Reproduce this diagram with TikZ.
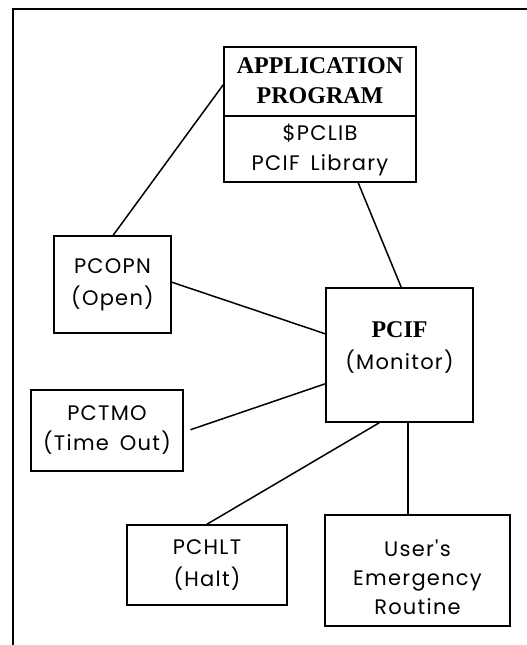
\documentclass[tikz,border=0pt]{standalone}
\usepackage{fontspec}
\setmainfont{Liberation Serif}
\newfontfamily\geosans[LetterSpace=6,WordSpace=1.6]{Poppins}
\usetikzlibrary{calc}
\begin{document}
\begin{tikzpicture}[x=1pt,y=-1pt,
  line width=1.6pt,
  box/.style={draw, rectangle, inner sep=0pt},
  lbl/.style={align=center, font=\geosans\fontsize{21}{30}\selectfont},
  hdr/.style={align=center, font=\bfseries\fontsize{24}{30}\selectfont},
  link/.style={line width=1.5pt}]
  \useasboundingbox (0,0) rectangle (527,645);
  % outer frame (top and left edges)
  \draw (13,645) -- (13,9) -- (527,9);

  % application program with library part
  \node[box, minimum width=192pt, minimum height=69pt] (app) at (320,81.5) {};
  \node[hdr] (apptxt) at (320,81) {APPLICATION\\PROGRAM};
  \node[box, minimum width=192pt, minimum height=66pt] (lib) at (320,149) {};
  \node[lbl] (libtxt) at (320,150) {\$PCLIB\\PCIF Library};

  % monitor
  \node[box, minimum width=147pt, minimum height=134pt] (pcif) at (399.5,355) {};
  \node[align=center] (pciftxt) at (399.5,347.5)
    {{\bfseries\fontsize{24}{24}\selectfont PCIF}\\[12pt]{\geosans\fontsize{21}{30}\selectfont (Monitor)}};

  % routines
  \node[box, lbl, font=\geosans\fontsize{21}{32}\selectfont, minimum width=117pt, minimum height=97pt] (pcopn) at (112.5,284.5) {PCOPN\\(Open)};
  \node[box, lbl, minimum width=152pt, minimum height=81pt] (pctmo) at (107,430.5) {PCTMO\\(Time Out)};
  \node[box, lbl, font=\geosans\fontsize{21}{32}\selectfont, minimum width=160pt, minimum height=80pt] (pchlt) at (207,565) {PCHLT\\(Halt)};
  \node[box, minimum width=185pt, minimum height=111pt] (user) at (417.5,570.5) {};
  \node[lbl, font=\geosans\fontsize{21}{29}\selectfont] (usertxt) at (417.5,577) {User's\\Emergency\\Routine};

  % connections
  \draw[link] ($(app.south west)+(0,-32)$) -- ($(pcopn.north west)+(60,0)$);
  \draw[link] ($(lib.south west)+(135,0)$) -- ($(pcif.north west)+(76,0)$);
  \draw[link] ($(pcopn.north east)+(0,47)$) -- ($(pcif.south west)+(0,-89)$);
  \draw[link, shorten <=7pt] ($(pctmo.east)+(0,1.5)$) -- ($(pcif.south west)+(0,-39)$);
  \draw[link] ($(pcif.south west)+(54,0)$) -- (pchlt.north);
  \draw[link] ($(pcif.south west)+(83,0)$) -- ($(user.north west)+(84,0)$);
\end{tikzpicture}
\end{document}
